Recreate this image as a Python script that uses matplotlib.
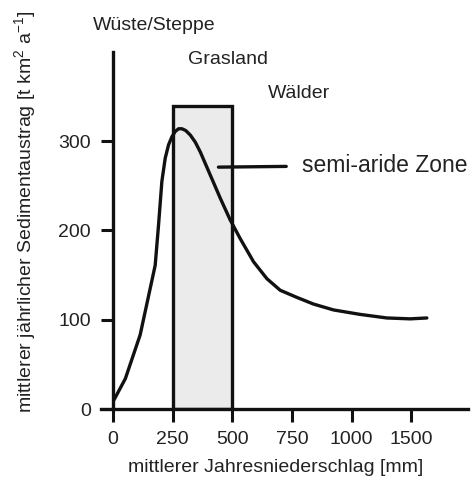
import numpy as np
import matplotlib
matplotlib.use("Agg")
import matplotlib.pyplot as plt

plt.rcParams['font.family'] = ['Liberation Sans', 'DejaVu Sans']
plt.rcParams['mathtext.fontset'] = 'custom'
plt.rcParams['mathtext.rm'] = 'Liberation Sans'
plt.rcParams['mathtext.it'] = 'Liberation Sans'

# Niederschlag [mm] und Sedimentaustrag [t km-2 a-1]
niederschlag = [4, 52, 114, 135, 177, 191, 205, 219, 233, 247, 261, 275, 289,
                305, 324, 345, 366, 408, 450, 491, 533, 589, 645, 701, 771,
                840, 924, 1071, 1295, 1490, 1630]
austrag = [10, 34, 83, 109, 161, 206, 255, 281, 296, 305, 311, 314, 314,
           312, 307, 299, 288, 262, 236, 212, 191, 165, 146, 133, 125,
           117.6, 111, 106, 102, 101, 102]

x_ticks = [0, 250, 500, 750, 1000, 1500]
y_ticks = [0, 100, 200, 300]
zone_lo, zone_hi, zone_top = 250, 500, 340

# the x axis is not linear: ticks are equally spaced
xp = [-1000, 0, 250, 500, 750, 1000, 1500, 2500]
fp = [-4, 0, 1, 2, 3, 4, 5, 7]
def fwd(x):
    return np.interp(x, xp, fp)
def inv(p):
    return np.interp(p, fp, xp)

txt = '#222222'
fig = plt.figure(figsize=(4.75, 4.86), dpi=100)
ax = fig.add_axes([101 / 475, 77 / 486, 367 / 475, 357 / 486])
ax.set_xscale('function', functions=(fwd, inv))

ax.bar(zone_lo, zone_top, width=zone_hi - zone_lo, align='edge',
       color='#ebebeb', edgecolor='#111111', linewidth=2.4, zorder=1)
ax.plot(niederschlag, austrag, color='#111111', lw=2.4, zorder=3,
        solid_joinstyle='round', solid_capstyle='round')

ax.annotate('semi-aride Zone', xy=(442, 271), xytext=(790, 273),
            ha='left', va='center', fontsize=16.5, color=txt,
            arrowprops=dict(arrowstyle='-', color='#111111', lw=2.4,
                            shrinkA=9, shrinkB=0))

ax.set_xlim(-50, 1975)
ax.set_ylim(0, 400)
ax.set_xticks(x_ticks)
ax.set_xticklabels([str(v) for v in x_ticks])
ax.set_yticks(y_ticks)
ax.minorticks_off()

for s in ['top', 'right']:
    ax.spines[s].set_visible(False)
ax.spines['left'].set_position(('data', 0))
ax.spines['left'].set_bounds(0, 400)
ax.spines['left'].set_linewidth(2.4)
ax.spines['bottom'].set_linewidth(2.4)
ax.spines['left'].set_color('#111111')
ax.spines['bottom'].set_color('#111111')
ax.tick_params(length=9, width=2.2, color='#111111', labelsize=14,
               labelcolor=txt, pad=7, direction='out')

fig.text(93 / 475, 1 - 25 / 486, 'Wüste/Steppe', fontsize=14, color=txt,
         ha='left', va='center')
fig.text(188 / 475, 1 - 59 / 486, 'Grasland', fontsize=14, color=txt,
         ha='left', va='center')
fig.text(268 / 475, 1 - 94 / 486, 'Wälder', fontsize=14, color=txt,
         ha='left', va='center')
fig.text(25 / 475, 1 - 212 / 486,
         r'mittlerer jährlicher Sedimentaustrag [t km$^{2}$ a$^{-1}$]',
         fontsize=14, color=txt, rotation=90, ha='center', va='center')
fig.text(276 / 475, 1 - 468 / 486, 'mittlerer Jahresniederschlag [mm]',
         fontsize=14, color=txt, ha='center', va='center')

fig.savefig('out.png', dpi=100)
